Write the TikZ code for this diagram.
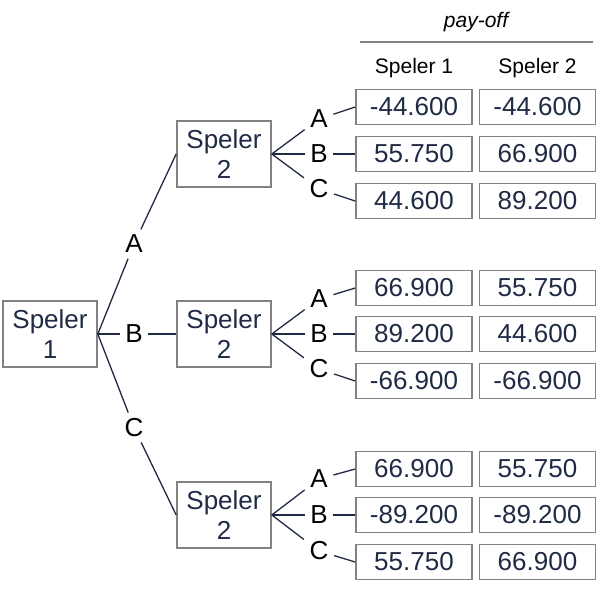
\documentclass[tikz,border=0pt]{standalone}
\usepackage{fontspec}
\setmainfont{Liberation Sans}
\usepackage{tikz}
\usetikzlibrary{calc}
\definecolor{navy}{HTML}{1F2A44}
\definecolor{rim}{HTML}{828282}
\tikzstyle{player} = [rectangle, minimum width=94pt, minimum height=66pt, align=center, draw=rim, line width=1.6pt, text=navy, font=\fontsize{26}{30}\selectfont]
\tikzstyle{val}    = [rectangle, minimum width=116pt, minimum height=35pt, inner sep=0pt, draw=rim, line width=1.6pt, text=navy, font=\fontsize{26}{30}\selectfont]
\tikzstyle{lbl}    = [inner sep=5.5pt, font=\fontsize{26}{30}\selectfont]
\tikzstyle{head}   = [font=\fontsize{21}{25}\selectfont]
\tikzstyle{branch} = [navy, line width=1.3pt]

\begin{document}
\begin{tikzpicture}[node distance=174pt]
      \useasboundingbox (-50pt,-256pt) rectangle (547pt,334pt);

      \node (root) [player]                  {Speler\\1};
      \node (pB)   [player, right of=root]   {Speler\\2};
      \node (pA)   [player, above of=pB, node distance=180pt] {Speler\\2};
      \node (pC)   [player, below of=pB, node distance=181pt] {Speler\\2};

      \node (oA) [lbl, xshift=-3pt] at ($(root)!0.5!(pA)$) {A};
      \node (oB) [lbl, xshift=-3pt] at ($(root)!0.5!(pB)$) {B};
      \node (oC) [lbl, xshift=-3pt, yshift=-3pt] at ($(root)!0.5!(pC)$) {C};

      % first player chose A
      \node (aA) [lbl, right of=pA, node distance=95pt, yshift=35pt]  {A};
      \node (aB) [lbl, right of=pA, node distance=95pt]               {B};
      \node (aC) [lbl, right of=pA, node distance=95pt, yshift=-35pt] {C};
      \node (aA1) [val, right of=pA, node distance=190pt, yshift=47pt]    {-44.600};
      \node (aA2) [val, right of=pA, node distance=313.5pt, yshift=47pt]  {-44.600};
      \node (aB1) [val, right of=pA, node distance=190pt]                 {55.750};
      \node (aB2) [val, right of=pA, node distance=313.5pt]               {66.900};
      \node (aC1) [val, right of=pA, node distance=190pt, yshift=-47pt]   {44.600};
      \node (aC2) [val, right of=pA, node distance=313.5pt, yshift=-47pt] {89.200};

      % first player chose B
      \node (bA) [lbl, right of=pB, node distance=95pt, yshift=35pt]  {A};
      \node (bB) [lbl, right of=pB, node distance=95pt]               {B};
      \node (bC) [lbl, right of=pB, node distance=95pt, yshift=-35pt] {C};
      \node (bA1) [val, right of=pB, node distance=190pt, yshift=46pt]    {66.900};
      \node (bA2) [val, right of=pB, node distance=313.5pt, yshift=46pt]  {55.750};
      \node (bB1) [val, right of=pB, node distance=190pt]                 {89.200};
      \node (bB2) [val, right of=pB, node distance=313.5pt]               {44.600};
      \node (bC1) [val, right of=pB, node distance=190pt, yshift=-47pt]   {-66.900};
      \node (bC2) [val, right of=pB, node distance=313.5pt, yshift=-47pt] {-66.900};

      % first player chose C
      \node (cA) [lbl, right of=pC, node distance=95pt, yshift=36pt]  {A};
      \node (cB) [lbl, right of=pC, node distance=95pt]               {B};
      \node (cC) [lbl, right of=pC, node distance=95pt, yshift=-36pt] {C};
      \node (cA1) [val, right of=pC, node distance=190pt, yshift=46pt]    {66.900};
      \node (cA2) [val, right of=pC, node distance=313.5pt, yshift=46pt]  {55.750};
      \node (cB1) [val, right of=pC, node distance=190pt]                 {-89.200};
      \node (cB2) [val, right of=pC, node distance=313.5pt]               {-89.200};
      \node (cC1) [val, right of=pC, node distance=190pt, yshift=-47pt]   {55.750};
      \node (cC2) [val, right of=pC, node distance=313.5pt, yshift=-47pt] {66.900};

      \node (h1) [head, above of=aA1, node distance=39pt] {Speler 1};
      \node (h2) [head, above of=aA2, node distance=39pt] {Speler 2};
      \coordinate (hl) at (310pt,292pt);
      \coordinate (hr) at (543pt,292pt);
      \node (po) [head, font=\fontsize{21}{25}\selectfont\itshape] at (426pt,312pt) {pay-off};
      \draw [rim, line width=1.4pt] (hl) -- (hr);

      \draw [branch] (root.east) -- (oA);
      \draw [branch] (root.east) -- (oB);
      \draw [branch] (root.east) -- (oC);
      \draw [branch] (oA) -- (pA.west);
      \draw [branch] (oB) -- (pB.west);
      \draw [branch] (oC) -- (pC.west);

      \draw [branch] (pA.east) -- (aA);
      \draw [branch] (pA.east) -- (aB);
      \draw [branch] (pA.east) -- (aC);
      \draw [branch] (aA) -- (aA1.west);
      \draw [branch] (aB) -- (aB1.west);
      \draw [branch] (aC) -- (aC1.west);

      \draw [branch] (pB.east) -- (bA);
      \draw [branch] (pB.east) -- (bB);
      \draw [branch] (pB.east) -- (bC);
      \draw [branch] (bA) -- (bA1.west);
      \draw [branch] (bB) -- (bB1.west);
      \draw [branch] (bC) -- (bC1.west);

      \draw [branch] (pC.east) -- (cA);
      \draw [branch] (pC.east) -- (cB);
      \draw [branch] (pC.east) -- (cC);
      \draw [branch] (cA) -- (cA1.west);
      \draw [branch] (cB) -- (cB1.west);
      \draw [branch] (cC) -- (cC1.west);

    \end{tikzpicture}
\end{document}
